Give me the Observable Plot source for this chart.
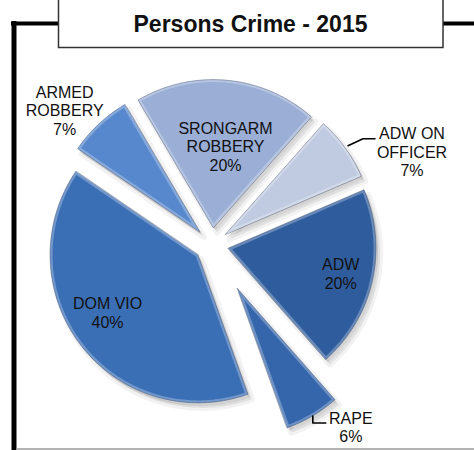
<!DOCTYPE html>
<html><head><meta charset="utf-8">
<script src="https://cdn.jsdelivr.net/npm/d3@7"></script>
<script src="https://cdn.jsdelivr.net/npm/@observablehq/plot@0.6"></script>
<style>body{margin:0;background:#fff} #chart{width:474px;height:450px;overflow:hidden}</style>
</head><body><div id="chart"></div>
<script>
// ---- data ----
const title = "Persons Crime - 2015";
const categories = ["ADW ON OFFICER", "ADW", "RAPE", "DOM VIO", "ARMED ROBBERY", "SRONGARM ROBBERY"];
const labelLines = ["ADW ON\nOFFICER", "ADW", "RAPE", "DOM VIO", "ARMED\nROBBERY", "SRONGARM\nROBBERY"];
const percents = [7, 20, 6, 40, 7, 20];

// ---- style / layout ----
const colors = ["#c0cbe2", "#2e5c9d", "#3566ab", "#3b6fb5", "#5788cd", "#9aaed6"];
const W = 474, H = 450;
const cx = 211, cy = 244, R = 148;
const startDeg = 41.5;
const explode = [17, 17, 51, 17, 17, 17];
const rimW = 2.5;
const labelR = [1.38, 0.78, 1.21, 0.725, 1.23, 0.555];
const labelTurn = [12, 0, -8.8, 5.2, -4.9, 3.2];
const leaderOffsets = {0: [[-64, -6], [-49, -13], [-37, -13]], 2: [[-38, -11], [-38, -4], [-25, -4]]};

const rad = Math.PI / 180;
const arcs = d3.pie().sort(null).startAngle(startDeg * rad).endAngle(startDeg * rad + 2 * Math.PI)(percents);

const rimKey = c => c + " rim";
const slicePts = [], innerPts = [], labels = [], leaders = [];
arcs.forEach((a, i) => {
  const mid = (a.startAngle + a.endAngle) / 2;
  const span = a.endAngle - a.startAngle;
  const ox = cx + explode[i] * Math.sin(mid), oy = cy - explode[i] * Math.cos(mid);
  const n = Math.max(8, Math.ceil(span / rad));
  // outer wedge
  slicePts.push({cat: rimKey(categories[i]), x: ox, y: oy});
  for (let k = 0; k <= n; k++) {
    const t = a.startAngle + span * k / n;
    slicePts.push({cat: rimKey(categories[i]), x: ox + R * Math.sin(t), y: oy - R * Math.cos(t)});
  }
  // inset wedge (bevel face)
  const ad = rimW / Math.sin(span / 2);
  innerPts.push({cat: categories[i], x: ox + ad * Math.sin(mid), y: oy - ad * Math.cos(mid)});
  const r2 = R - rimW, dA = Math.asin(rimW / r2);
  for (let k = 0; k <= n; k++) {
    const t = a.startAngle + dA + (span - 2 * dA) * k / n;
    innerPts.push({cat: categories[i], x: ox + r2 * Math.sin(t), y: oy - r2 * Math.cos(t)});
  }
  const la = mid + labelTurn[i] * rad;
  const lx = ox + labelR[i] * R * Math.sin(la), ly = oy - labelR[i] * R * Math.cos(la);
  labels.push({text: labelLines[i] + "\n" + percents[i] + "%", x: lx, y: ly});
  if (leaderOffsets[i]) leaderOffsets[i].forEach(([dx, dy]) => leaders.push({id: i, x: lx + dx, y: ly + dy}));
});

const rimColors = colors.map(c => d3.interpolateRgb(c, "#ffffff")(0.28));
const font = "Liberation Sans, Arial, sans-serif";
const svg = Plot.plot({
  width: W, height: H, margin: 0,
  x: {domain: [0, W], range: [0, W], axis: null},
  y: {domain: [0, H], range: [0, H], axis: null},
  color: {domain: [...categories, ...categories.map(rimKey)], range: [...colors, ...rimColors]},
  style: {background: "white"},
  marks: [
    Plot.line(slicePts, {x: d => d.x + 4, y: d => d.y + 5, z: "cat", fill: "#000", fillOpacity: 0.07, stroke: "#000", strokeOpacity: 0.05, strokeWidth: 6, curve: "linear-closed"}),
    Plot.line(slicePts, {x: d => d.x + 2, y: d => d.y + 3, z: "cat", fill: "#000", fillOpacity: 0.1, curve: "linear-closed"}),
    Plot.line(slicePts, {x: "x", y: "y", z: "cat", fill: "cat", stroke: "rgba(30,45,80,0.45)", strokeWidth: 0.8, curve: "linear-closed"}),
    Plot.line(innerPts, {x: "x", y: "y", z: "cat", fill: "cat", curve: "linear-closed"}),
    Plot.line(leaders, {x: "x", y: "y", z: "id", stroke: "#000", strokeWidth: 1.6}),
    Plot.text(labels, {x: "x", y: "y", text: "text", fontSize: 16, fontFamily: font, fill: "#111", lineHeight: 1.17}),
    Plot.ruleX([13.5], {y1: 21, y2: H, stroke: "#000", strokeWidth: 5}),
    Plot.ruleY([23], {x1: 11, x2: 58, stroke: "#000", strokeWidth: 4}),
    Plot.ruleY([23], {x1: 443, x2: W, stroke: "#000", strokeWidth: 4}),
    Plot.ruleY([448.5], {x1: 16, x2: W, stroke: "#9a9a9a", strokeWidth: 1.5}),
    Plot.rect([0], {x1: 58.5, x2: 443, y1: -5, y2: 47.5, fill: "white", stroke: "#333", strokeWidth: 1.5}),
    Plot.text([title], {x: () => 250, y: () => 24, text: d => d, fontSize: 23, fontWeight: "bold", fontFamily: font, fill: "#111"})
  ]
});
document.getElementById("chart").appendChild(svg);
</script>
</body></html>
